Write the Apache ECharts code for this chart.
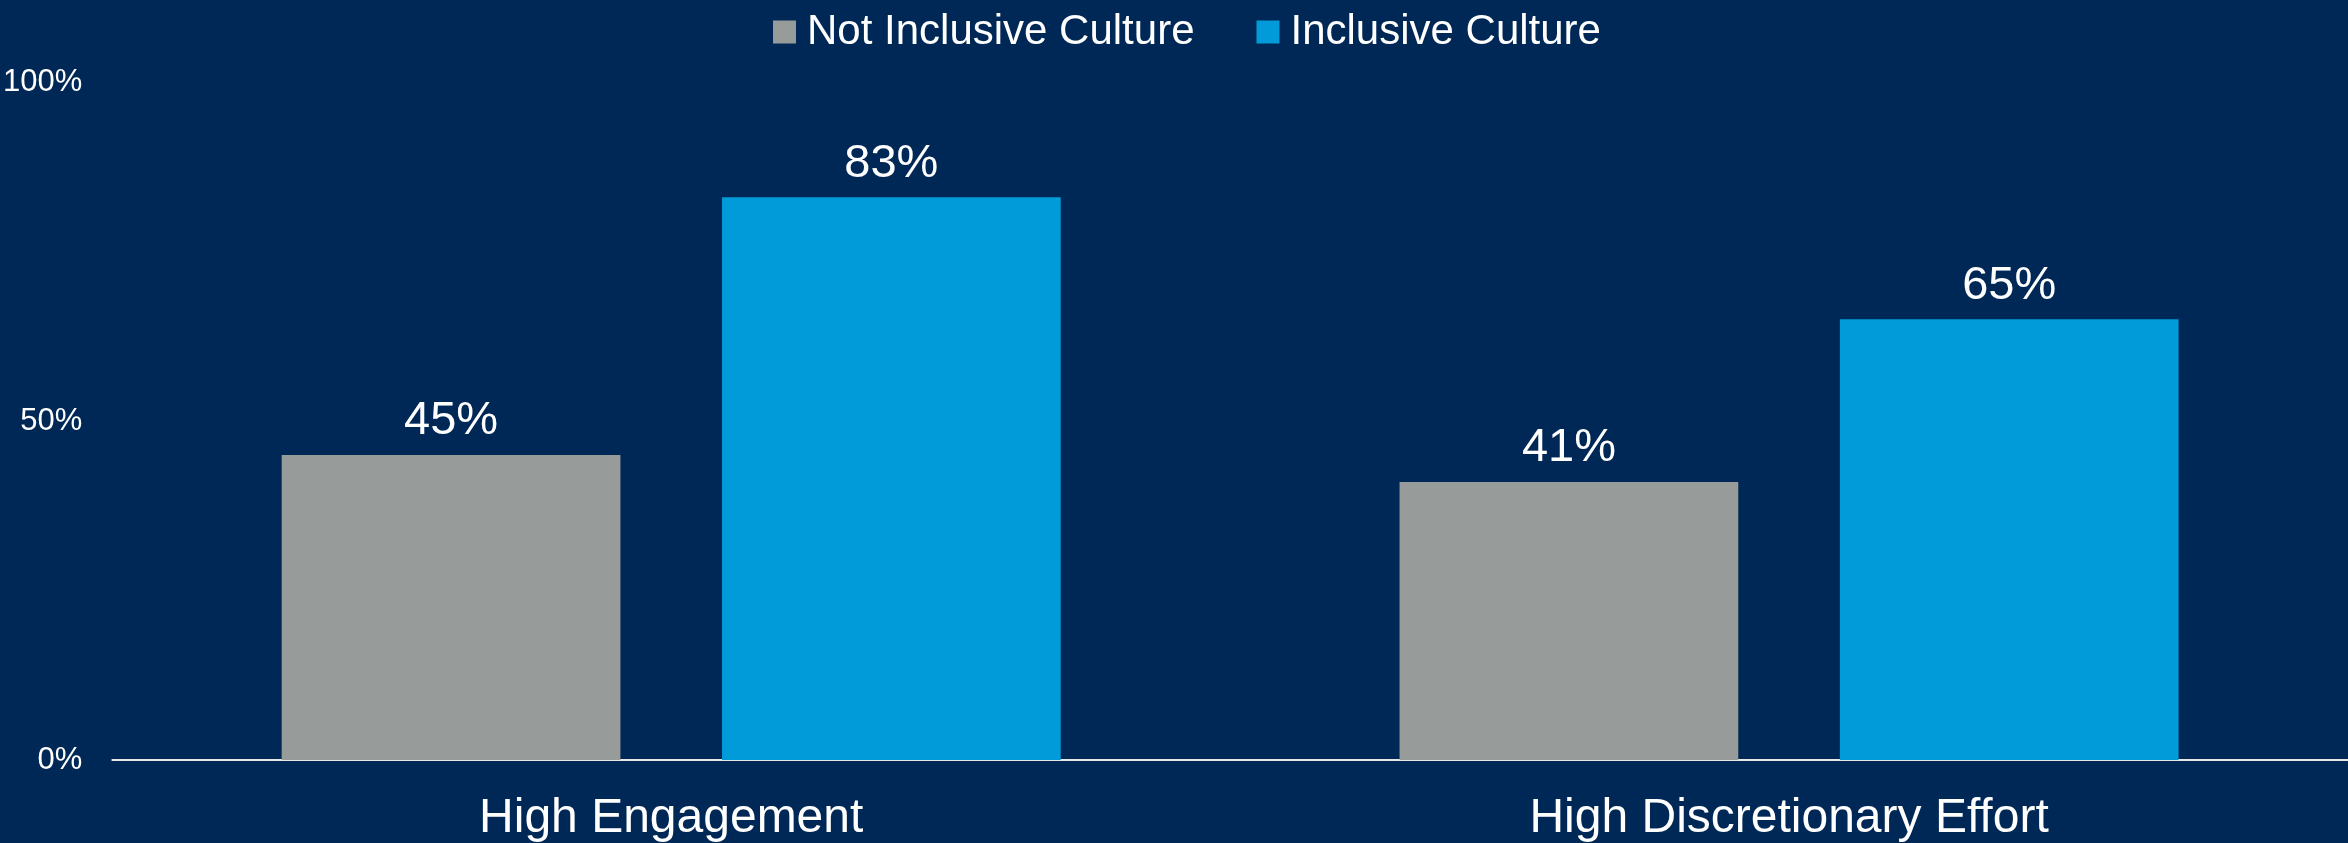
<!DOCTYPE html>
<html>
<head>
<meta charset="utf-8">
<script src="https://cdn.jsdelivr.net/npm/echarts@6/dist/echarts.min.js"></script>
<style>
  html, body { margin: 0; padding: 0; background: #002856; }
  #chart { width: 2348px; height: 843px; }
</style>
</head>
<body>
<div id="chart"></div>
<script>
// categories and values
const categories = ['High Engagement', 'High Discretionary Effort'];
const seriesNames = ['Not Inclusive Culture', 'Inclusive Culture'];
const notInclusive = [45, 41];
const inclusive = [83, 65];
const yTicks = [0, 50, 100];

const chart = echarts.init(document.getElementById('chart'));
const font = 'Liberation Sans, Arial, sans-serif';

chart.setOption({
    backgroundColor: '#002856',
    animation: false,
    textStyle: { fontFamily: font },
    legend: {
        top: 6,
        left: 768,
        itemWidth: 23,
        itemHeight: 23,
        itemGap: 62,
        icon: 'rect',
        textStyle: { color: '#ffffff', fontSize: 42, fontFamily: font, padding: [0, 0, 0, 6] },
        data: seriesNames
    },
    grid: { left: 112, right: 0, top: 82, bottom: 81, containLabel: false },
    xAxis: {
        type: 'category',
        data: categories,
        axisLine: { show: true, lineStyle: { color: '#e8e8e8', width: 2 } },
        axisTick: { show: false },
        axisLabel: { color: '#ffffff', fontSize: 48, margin: 35, fontFamily: font }
    },
    yAxis: {
        type: 'value',
        min: yTicks[0],
        max: yTicks[yTicks.length - 1],
        interval: 50,
        axisLine: { show: false },
        axisTick: { show: false },
        splitLine: { show: false },
        axisLabel: { color: '#ffffff', fontSize: 31, margin: 30, formatter: '{value}%', fontFamily: font }
    },
    series: [
        {
            name: seriesNames[0],
            type: 'bar',
            data: notInclusive,
            barWidth: '30.3%',
            barGap: '30%',
            itemStyle: { color: '#979C9B' },
            label: { show: true, position: 'top', distance: 10, color: '#ffffff', fontSize: 47, formatter: '{c}%', fontFamily: font }
        },
        {
            name: seriesNames[1],
            type: 'bar',
            data: inclusive,
            barWidth: '30.3%',
            barGap: '30%',
            itemStyle: { color: '#009BD8' },
            label: { show: true, position: 'top', distance: 10, color: '#ffffff', fontSize: 47, formatter: '{c}%', fontFamily: font }
        }
    ]
});
</script>
</body>
</html>
